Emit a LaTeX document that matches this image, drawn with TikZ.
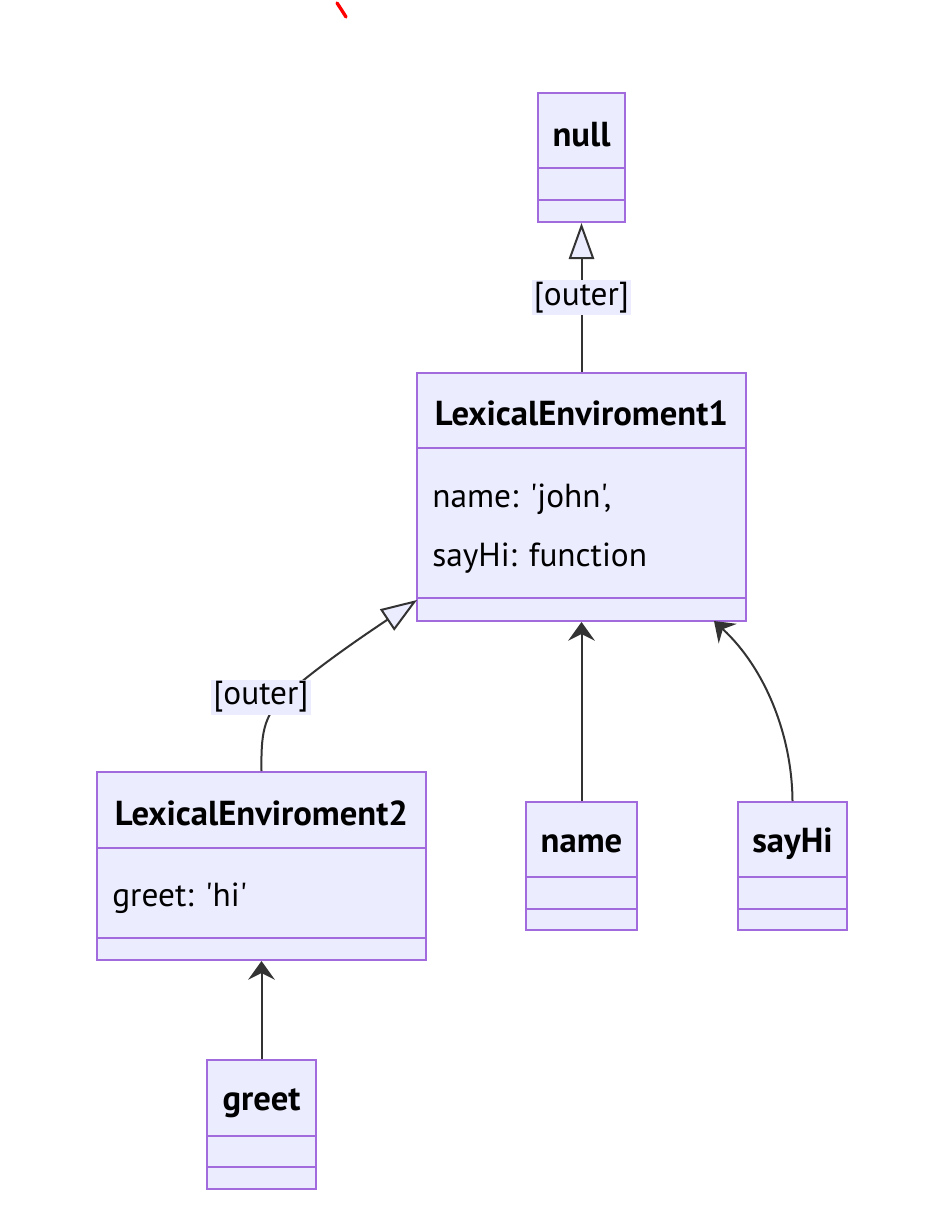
\documentclass[tikz,border=0pt]{standalone}
\usepackage{fontspec}
\setmainfont{PT Sans}[Ligatures=TeXOff]
\usetikzlibrary{arrows.meta,calc,fit}
\definecolor{BoxFill}{HTML}{ECECFF}
\definecolor{BoxLine}{HTML}{A26BDD}
\definecolor{EdgeLine}{HTML}{333333}

\begin{document}
\begin{tikzpicture}[
  x=0.75pt, y=-0.75pt,
  font=\fontsize{25}{29}\selectfont,
  box/.style={draw=BoxLine,line width=1.5pt,fill=BoxFill,inner sep=0pt},
  ttl/.style={font=\fontsize{26}{30}\selectfont\bfseries,inner sep=0pt},
  attr/.style={anchor=west,inner sep=0pt},
  sep/.style={draw=BoxLine,line width=1.5pt},
  e/.style={draw=EdgeLine,line width=1.5pt},
  arr/.style={e,-{Stealth[length=14pt,width=20pt,inset=5pt]}},
  inh/.style={e,-{Triangle[length=27pt,width=19pt,fill=BoxFill]}},
  lbl/.style={fill=BoxFill,inner sep=1.5pt},
]
\useasboundingbox (0,0) rectangle (926,1220);

% stray pen mark at the top
\draw[red,line width=2.5pt,line cap=round] (337,3) .. controls (341,9) .. (346,17);

% class boxes
\node[box,fit={(538,93) (625,222)}]  (null)  {};
\node[box,fit={(417,373) (746,621)}] (le1)   {};
\node[box,fit={(97,772) (426,960)}]  (le2)   {};
\node[box,fit={(526,802) (637,930)}] (name)  {};
\node[box,fit={(738,802) (847,930)}] (sayhi) {};
\node[box,fit={(207,1060) (316,1189)}] (greet) {};

% compartments
\draw[sep] (null.west |- 0,168) -- (null.east |- 0,168);
\draw[sep] (null.west |- 0,200) -- (null.east |- 0,200);
\draw[sep] (le1.west |- 0,448) -- (le1.east |- 0,448);
\draw[sep] (le1.west |- 0,598) -- (le1.east |- 0,598);
\draw[sep] (le2.west |- 0,848) -- (le2.east |- 0,848);
\draw[sep] (le2.west |- 0,938) -- (le2.east |- 0,938);
\draw[sep] (name.west |- 0,877) -- (name.east |- 0,877);
\draw[sep] (name.west |- 0,909) -- (name.east |- 0,909);
\draw[sep] (sayhi.west |- 0,877) -- (sayhi.east |- 0,877);
\draw[sep] (sayhi.west |- 0,909) -- (sayhi.east |- 0,909);
\draw[sep] (greet.west |- 0,1136) -- (greet.east |- 0,1136);
\draw[sep] (greet.west |- 0,1167) -- (greet.east |- 0,1167);

% titles and members
\node[ttl] (nullT)  at (null.center |- 0,135)   {null};
\node[ttl] (le1T)   at (le1.center |- 0,413)    {LexicalEnviroment1};
\node[attr] (le1A)  at (432,499) {name: 'john',};
\node[attr] (le1B)  at (432,558) {sayHi: function};
\node[ttl] (le2T)   at (le2.center |- 0,813)    {LexicalEnviroment2};
\node[attr] (le2A)  at (112,898) {greet: 'hi'};
\node[ttl] (nameT)  at (name.center |- 0,844)   {name};
\node[ttl] (sayhiT) at (sayhi.center |- 0,844)  {sayHi};
\node[ttl] (greetT) at (greet.center |- 0,1103) {greet};

% connectors
\coordinate (le1in)  at (417,600);
\coordinate (le1in2) at (714,621);
\draw[inh] (le1.north) -- (null.south) node[lbl,pos=0.5] (o1) {[outer]};
\draw[inh] (le2.north) .. controls (261,735) and (263,716) .. (284,697)
           .. controls (315,668) and (372,630) .. (le1in);
\node[lbl] (o2) at (261,697) {[outer]};
\draw[arr] (name.north) -- (le1.south);
\draw[arr] (sayhi.north) .. controls (792,735) and (765,668) .. (le1in2);
\draw[arr] (greet.north) -- (le2.south);
\end{tikzpicture}
\end{document}
